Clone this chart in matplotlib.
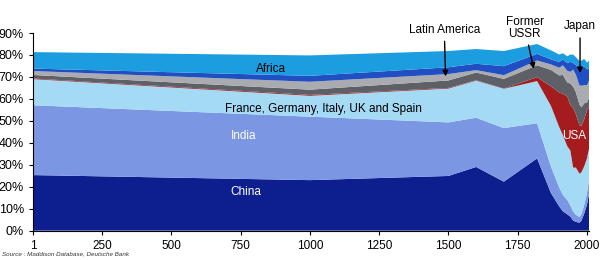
import numpy as np
import matplotlib.pyplot as plt

plt.rcParams['font.family'] = ['Liberation Sans', 'DejaVu Sans']

# share of world GDP (%)
years = [1, 1000, 1500, 1600, 1700, 1820, 1870, 1900, 1913, 1929, 1940,
         1950, 1960, 1973, 1980, 1990, 2000, 2003, 2008]
china = [25.3, 23.0, 24.9, 29.0, 22.3, 32.9, 17.1, 11.0, 8.8, 7.4, 6.4,
         4.6, 4.0, 3.6, 4.6, 7.8, 11.8, 14.0, 17.0]
india = [31.8, 28.9, 24.4, 22.4, 24.4, 16.0, 12.1, 8.6, 7.5, 6.5, 5.1,
         4.2, 3.2, 2.6, 3.0, 4.0, 5.2, 5.5, 6.5]
europe5 = [11.9, 9.5, 15.4, 16.9, 17.9, 19.2, 27.6, 27.5, 27.2, 24.5, 25.0,
           19.9, 21.5, 19.7, 19.0, 17.5, 15.9, 15.3, 14.0]
usa = [0.3, 0.4, 0.3, 0.2, 0.1, 1.8, 8.9, 15.8, 18.9, 22.7, 20.6,
       27.3, 24.3, 22.1, 21.1, 21.4, 21.9, 20.6, 18.6]
ussr = [1.6, 2.4, 3.4, 3.5, 4.4, 5.4, 7.5, 7.8, 8.5, 6.4, 9.9,
        9.6, 10.0, 9.4, 8.5, 7.3, 3.6, 3.8, 4.6]
latam = [1.8, 3.6, 2.9, 1.1, 1.7, 2.2, 2.5, 3.5, 4.4, 5.3, 5.3,
         7.8, 8.0, 8.7, 9.8, 8.3, 7.9, 7.7, 7.9]
japan = [1.1, 2.7, 3.1, 2.9, 4.1, 3.0, 2.3, 2.6, 2.6, 3.5, 4.6,
         3.0, 4.4, 7.8, 7.8, 8.6, 7.2, 6.6, 5.7]
africa = [7.5, 9.3, 7.4, 6.7, 6.9, 4.5, 4.1, 3.4, 2.9, 3.1, 3.3,
          3.8, 3.6, 3.4, 3.6, 3.3, 3.1, 3.2, 3.4]

series = [china, india, europe5, usa, ussr, latam, japan, africa]
colors = ['#0d1f8f', '#7b96e3', '#a5daf5', '#a51c1f', '#5e6067',
          '#a9abb0', '#1f4fc2', '#1b9de0']

xticks = [1, 250, 500, 750, 1000, 1250, 1500, 1750, 2000]
yticks = np.arange(0, 91, 10)

fig = plt.figure(figsize=(6, 2.6), dpi=100)
ax = fig.add_axes([0.055, 0.113, 0.927, 0.76])
ax.stackplot(years, *series, colors=colors, linewidth=0)

ax.set_xlim(1, 2008)
ax.set_ylim(0, 90)
ax.set_xticks(xticks)
ax.set_xticklabels([str(t) for t in xticks], fontsize=8.5)
ax.set_yticks(yticks)
ax.set_yticklabels([f'{t}%' for t in yticks], fontsize=9)
for s in ['top', 'right']:
    ax.spines[s].set_visible(False)
ax.tick_params(direction='out', length=3, width=0.8)

txt = dict(fontsize=8.5, ha='center', va='center')
ax.text(860, 73.5, 'Africa', color='black', **txt)
ax.text(1050, 55.5, 'France, Germany, Italy, UK and Spain', color='black', **txt)
ax.text(760, 43, 'India', color='white', **txt)
ax.text(768, 17.5, 'China', color='white', **txt)
ax.text(1955, 43, 'USA', color='white', **txt)

arrow = dict(arrowstyle='-|>', color='black', lw=1, mutation_scale=8)
ax.annotate('Latin America', xy=(1490, 69), xytext=(1485, 91.5),
            ha='center', va='center', fontsize=8.5, arrowprops=arrow,
            annotation_clip=False)
ax.annotate('Former\nUSSR', xy=(1810, 72.5), xytext=(1775, 92.5),
            ha='center', va='center', fontsize=8.5, arrowprops=arrow,
            annotation_clip=False, linespacing=1.0)
ax.annotate('Japan', xy=(1975, 70.5), xytext=(1975, 93),
            ha='center', va='center', fontsize=8.5, arrowprops=arrow,
            annotation_clip=False)

fig.text(0.003, 0.015, 'Source : Maddison Database, Deutsche Bank',
         fontsize=4.5, style='italic', color='#333333', ha='left', va='bottom')

fig.savefig('out.png', dpi=100)
